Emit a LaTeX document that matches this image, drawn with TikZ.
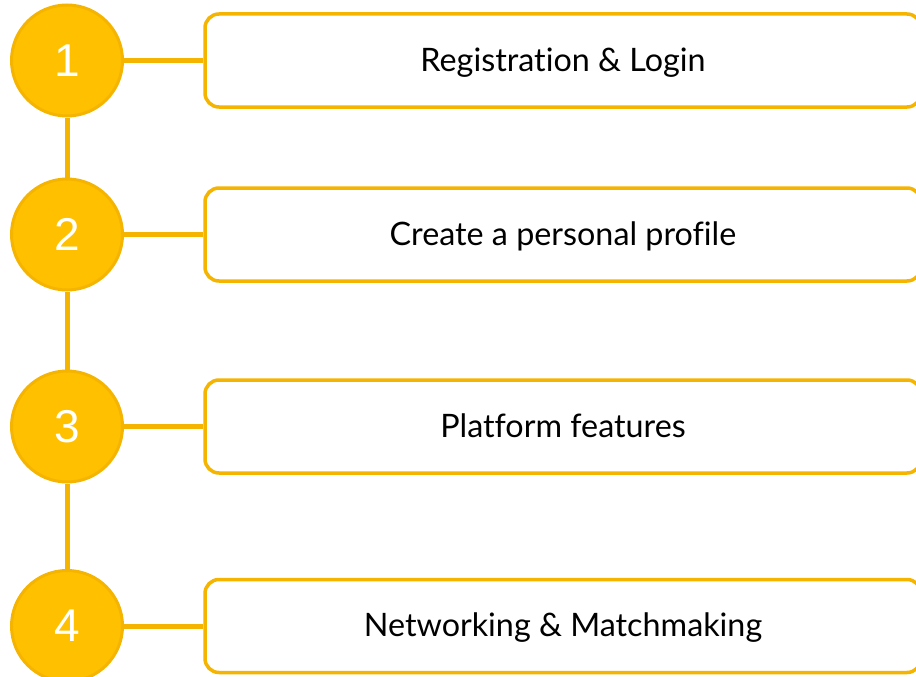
\documentclass[tikz,border=0pt]{standalone}
\usepackage{fontspec}
\setmainfont[Ligatures=NoCommon]{Lato}
\newfontfamily\numfont{Liberation Sans}
\usepackage{tikz}
\definecolor{StepFill}{HTML}{FFC000}
\definecolor{StepLine}{HTML}{F5B400}
\tikzset{
  stepnum/.style={circle,fill=StepFill,draw=StepLine,line width=3pt,
    minimum size=111pt,inner sep=0pt,text=white,font=\numfont\fontsize{46}{46}\selectfont},
  stepbox/.style={rectangle,rounded corners=14pt,draw=StepLine,line width=3.5pt,
    fill=white,minimum width=716pt,minimum height=93pt,text depth=2pt,
    font=\fontsize{32.3}{32.3}\selectfont},
  steplink/.style={StepLine,line width=5pt}
}
\begin{document}
\begin{tikzpicture}[x=1pt,y=-1pt]%
  \useasboundingbox (0,0) rectangle (916,677);
  \node[stepnum] (N1) at (67,60.5) {1};
  \node[stepnum] (N2) at (67,234.5) {2};
  \node[stepnum] (N3) at (67,426.5) {3};
  \node[stepnum] (N4) at (67,626) {4};
  \node[stepbox] (B1) at (563,60.5) {Registration \& Login};
  \node[stepbox] (B2) at (563,234.5) {Create a personal profile};
  \node[stepbox] (B3) at (563,426.5) {Platform features};
  \node[stepbox] (B4) at (563,626) {Networking \& Matchmaking};
  \draw[steplink] (N1) -- (N2);
  \draw[steplink] (N2) -- (N3);
  \draw[steplink] (N3) -- (N4);
  \draw[steplink] (N1) -- (B1);
  \draw[steplink] (N2) -- (B2);
  \draw[steplink] (N3) -- (B3);
  \draw[steplink] (N4) -- (B4);
\end{tikzpicture}
\end{document}
